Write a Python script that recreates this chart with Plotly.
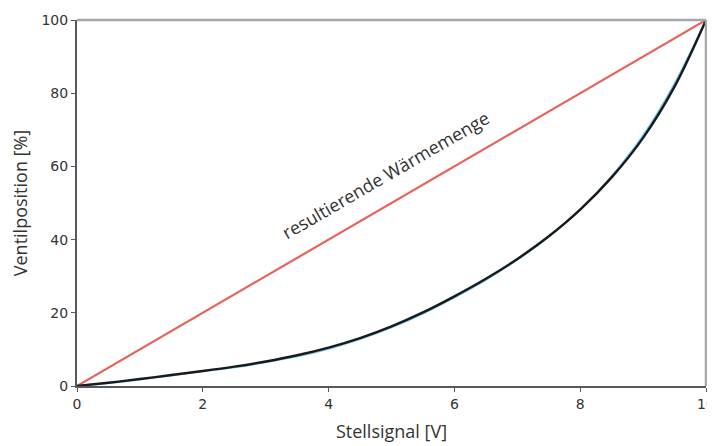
import plotly.graph_objects as go

# Stellsignal [V]
signal = [0, 0.5, 1, 1.5, 2, 2.5, 3, 3.5, 4, 4.5, 5, 5.5, 6, 6.5, 7, 7.5, 8, 8.5, 9, 9.5, 10]
# valve position, measured (blue) and fitted (black)
pos_blue = [0, 0.8, 1.8, 2.9, 4.0, 5.1, 6.5, 8.1, 10.2, 12.8, 16.0, 19.8, 24.2, 29.0, 34.5, 40.8, 48.3, 57.3, 68.4, 82.6, 100]
pos_black = [0, 0.9, 1.9, 3.0, 4.1, 5.3, 6.7, 8.4, 10.5, 13.1, 16.3, 20.1, 24.5, 29.3, 34.7, 40.9, 48.2, 57.0, 67.8, 81.8, 100]
# resulting heat quantity (linear)
heat_x = [0, 10]
heat_y = [0, 100]

fig = go.Figure()

fig.add_trace(go.Scatter(x=heat_x, y=heat_y, mode='lines',
                         line=dict(color='#e6645a', width=2.2), showlegend=False))
fig.add_trace(go.Scatter(x=signal, y=pos_blue, mode='lines', line_shape='spline',
                         line=dict(color='#6cc4ee', width=2), showlegend=False))
fig.add_trace(go.Scatter(x=signal, y=pos_black, mode='lines', line_shape='spline',
                         line=dict(color='#1a1a1a', width=2.4), showlegend=False))

fig.add_annotation(x=4.9, y=57.6, text='resultierende Wärmemenge', showarrow=False,
                   textangle=-30, font=dict(family='Open Sans', size=18, color='#333333'))

# lighter frame on top and right
fig.add_shape(type='line', xref='x domain', yref='y domain', x0=0, x1=1, y0=1, y1=1,
              line=dict(color='#a3a7ab', width=2.5))
fig.add_shape(type='line', xref='x domain', yref='y domain', x0=1, x1=1, y0=0, y1=1,
              line=dict(color='#a3a7ab', width=2.5))

axis_common = dict(showgrid=False, zeroline=False, showline=True, linecolor='#55595d',
                   linewidth=2, ticks='outside', ticklen=4, tickcolor='#55595d',
                   automargin=False, ticklabeloverflow='allow',
                   tickfont=dict(family='DejaVu Sans', size=14, color='#333333'))

fig.update_xaxes(range=[0, 10], dtick=2,
                 title=dict(text='Stellsignal [V]',
                            font=dict(family='Open Sans', size=18, color='#333333')),
                 **axis_common)
fig.update_yaxes(range=[0, 100], dtick=20,
                 title=dict(text='Ventilposition [%]',
                            font=dict(family='Open Sans', size=18, color='#333333')),
                 **axis_common)

# page body has an 8px margin, so the figure is sized to end at the window edge
fig.update_layout(width=707, height=438, margin=dict(l=69, r=9, t=12, b=60),
                  plot_bgcolor='white', paper_bgcolor='white')

fig.write_html("out.html")
